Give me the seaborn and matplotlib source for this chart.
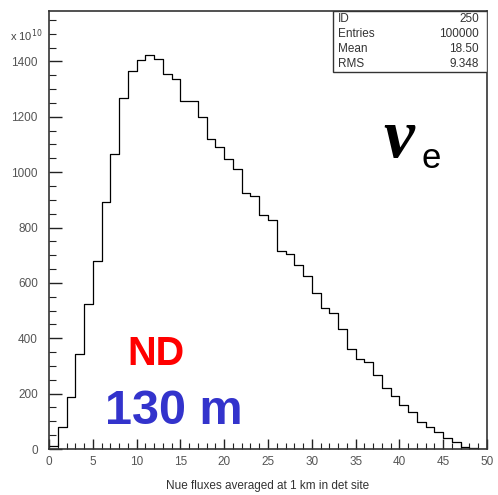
import numpy as np
import pandas as pd
import matplotlib
matplotlib.use("Agg")
import matplotlib.pyplot as plt
import seaborn as sns

# Flux histogram contents, in units of 1e10, one entry per 1-unit bin from 0 to 50
bin_edges = list(range(0, 51))
flux = [12, 80, 187, 342, 522, 679, 893, 1067, 1268, 1366,
        1404, 1423, 1410, 1353, 1336, 1257, 1257, 1200, 1121, 1089,
        1047, 1012, 925, 913, 845, 827, 715, 704, 664, 626,
        563, 510, 490, 432, 361, 325, 314, 268, 221, 191,
        158, 132, 96, 80, 60, 41, 26, 8, 5, 0]

stats_labels = ["ID", "Entries", "Mean", "RMS"]
stats_values = ["250", "100000", "18.50", "9.348"]

x_ticks = list(range(0, 51, 5))
y_ticks = list(range(0, 1401, 200))

sns.set_theme(style="white")
plt.rcParams["font.family"] = ["Liberation Sans", "DejaVu Sans"]

df = pd.DataFrame({
    "center": [e + 0.5 for e in bin_edges[:-1]],
    "flux": flux,
})

fig = plt.figure(figsize=(4.98, 4.95), dpi=100)
ax = fig.add_axes([49 / 498, 1 - 449 / 495, (487 - 49) / 498, (449 - 11) / 495])

sns.histplot(data=df, x="center", weights="flux", bins=bin_edges,
             element="step", fill=False, color="black", linewidth=0.9, ax=ax)

ax.set_xlim(0, 50)
ax.set_ylim(0, 1582)
ax.set_xticks(x_ticks)
ax.set_yticks(y_ticks)
ax.set_xticks(np.arange(0, 51, 1), minor=True)
ax.set_yticks(np.arange(0, 1582, 50), minor=True)

tick_col = "#555555"
ax.tick_params(axis="both", which="both", direction="in", colors="#222222",
               labelcolor=tick_col, labelsize=8.5)
ax.tick_params(axis="y", which="major", length=9, width=1.0, pad=8, left=True)
ax.tick_params(axis="y", which="minor", length=5, width=0.8, left=True)
ax.tick_params(axis="x", which="major", length=7, width=1.0, pad=5, bottom=True)
ax.tick_params(axis="x", which="minor", length=4, width=0.8, bottom=True)

for side in ["left", "bottom", "top", "right"]:
    ax.spines[side].set_visible(True)
    ax.spines[side].set_color("#333333")
    ax.spines[side].set_linewidth(1.2)

ax.set_ylabel("")
ax.set_xlabel("Nue fluxes averaged at 1 km in det site", fontsize=8.5,
              color="#333333", labelpad=9)

# exponent note on the y axis
fig.text(10 / 498, 1 - 36 / 495, r"x 10$^{10}$", fontsize=8, color="#444444",
         ha="left", va="center")

# statistics box
bx0, by0 = (333 - 49) / 438, (449 - 72) / 438
ax.add_patch(plt.Rectangle((bx0, by0), 1 - bx0, 1 - by0, transform=ax.transAxes,
                           facecolor="white", edgecolor="#333333", linewidth=1.0,
                           zorder=5))
for i, (lab, val) in enumerate(zip(stats_labels, stats_values)):
    ypix = 19.5 + i * 14.7
    yax = (449 - ypix) / 438
    ax.text((338 - 49) / 438, yax, lab, transform=ax.transAxes, fontsize=8.5,
            color="#333333", ha="left", va="center", zorder=6)
    ax.text((479 - 49) / 438, yax, val, transform=ax.transAxes, fontsize=8.5,
            color="#333333", ha="right", va="center", zorder=6)

# neutrino flavour symbol
fig.text(383 / 498, 1 - 140 / 495, "\u03bd", fontsize=50, family="Liberation Serif",
         style="italic", fontweight="bold", ha="left", va="center", color="black")
fig.text(421 / 498, 1 - 158 / 495, "e", fontsize=25, family="Liberation Sans",
         ha="left", va="center", color="black")

# detector labels
fig.text(156 / 498, 1 - 354 / 495, "ND", fontsize=28.5, fontweight="bold",
         color="#ff0000", ha="center", va="center")
fig.text(174 / 498, 1 - 411 / 495, "130 m", fontsize=35, fontweight="bold",
         color="#3333cc", ha="center", va="center")

fig.savefig("out.png", dpi=100)
